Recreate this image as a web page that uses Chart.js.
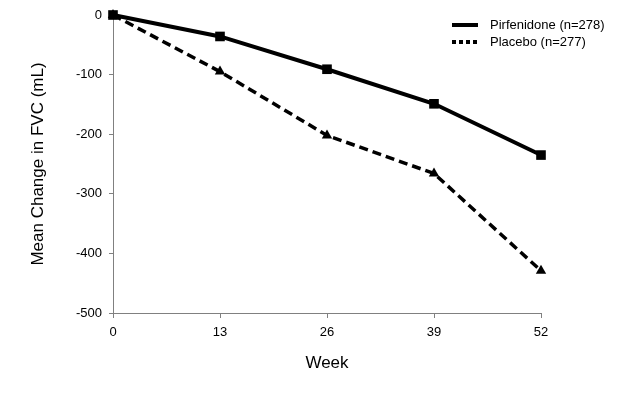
<!DOCTYPE html>
<html>
<head>
<meta charset="utf-8">
<script src="https://cdn.jsdelivr.net/npm/chart.js@4/dist/chart.umd.min.js"></script>
<style>
  html, body { margin: 0; padding: 0; background: #fff; }
  #wrap { width: 620px; height: 396px; }
</style>
</head>
<body>
<div id="wrap"><canvas id="fvcChart" width="620" height="396"></canvas></div>
<script>
// weeks on the x axis
const weeks = [0, 13, 26, 39, 52];
// mean change in FVC (mL)
const pirfenidone = [0, -36, -91, -149, -235];
const placebo = [0, -95, -202, -266, -429];
const seriesNames = ["Pirfenidone (n=278)", "Placebo (n=277)"];

const FONT = "Arial, 'Liberation Sans', sans-serif";
const AXIS_GREY = "#808080";

function toPoints(vals) {
  return vals.map((v, i) => ({ x: weeks[i], y: v }));
}

// legend in the top right corner, as in the original figure
const cornerLegend = {
  id: "cornerLegend",
  afterDraw(chart) {
    const ctx = chart.ctx;
    const rows = [
      { label: seriesNames[0], dash: [], width: 4, y: 25 },
      { label: seriesNames[1], dash: [4, 3], width: 4, y: 42 }
    ];
    ctx.save();
    rows.forEach(r => {
      ctx.beginPath();
      ctx.setLineDash(r.dash);
      ctx.lineWidth = r.width;
      ctx.strokeStyle = "#000";
      ctx.moveTo(452, r.y);
      ctx.lineTo(478, r.y);
      ctx.stroke();
      ctx.setLineDash([]);
      ctx.fillStyle = "#000";
      ctx.font = "13px " + FONT;
      ctx.textBaseline = "middle";
      ctx.fillText(r.label, 490, r.y);
    });
    ctx.restore();
  }
};

new Chart(document.getElementById("fvcChart"), {
  type: "line",
  data: {
    datasets: [
      {
        label: seriesNames[0],
        data: toPoints(pirfenidone),
        borderColor: "#000",
        backgroundColor: "#000",
        borderWidth: 4,
        pointStyle: "rect",
        pointRadius: 6.8,
        pointBorderWidth: 0,
        clip: false,
        tension: 0
      },
      {
        label: seriesNames[1],
        data: toPoints(placebo),
        borderColor: "#000",
        backgroundColor: "#000",
        borderWidth: 3.5,
        borderDash: [9, 5],
        pointStyle: "triangle",
        pointRadius: 6,
        pointBorderWidth: 0,
        clip: false,
        tension: 0
      }
    ]
  },
  options: {
    responsive: false,
    animation: false,
    layout: { padding: { left: 24, right: 79, top: 15, bottom: 18 } },
    plugins: {
      legend: { display: false },
      tooltip: { enabled: false }
    },
    scales: {
      x: {
        type: "linear",
        min: 0,
        max: 52,
        afterFit: s => { s.height = 396 - 313 - 18; },
        afterBuildTicks: s => { s.ticks = weeks.map(w => ({ value: w })); },
        ticks: { color: "#000", font: { size: 13, family: FONT }, padding: 7 },
        grid: { drawOnChartArea: false, drawTicks: true, tickLength: 5, color: AXIS_GREY },
        border: { color: AXIS_GREY, width: 1 },
        title: { display: true, text: "Week", color: "#000", font: { size: 17, family: FONT }, padding: { top: 4, bottom: 4 } }
      },
      y: {
        min: -500,
        max: 0,
        afterFit: s => { s.width = 113 - 24; },
        ticks: { stepSize: 100, color: "#000", font: { size: 13, family: FONT }, padding: 7 },
        grid: { drawOnChartArea: false, drawTicks: true, tickLength: 4, color: AXIS_GREY },
        border: { color: AXIS_GREY, width: 1 },
        title: { display: true, text: "Mean Change in FVC (mL)", color: "#000", font: { size: 17, family: FONT }, padding: { top: 4, bottom: 4 } }
      }
    }
  },
  plugins: [cornerLegend]
});
</script>
</body>
</html>
